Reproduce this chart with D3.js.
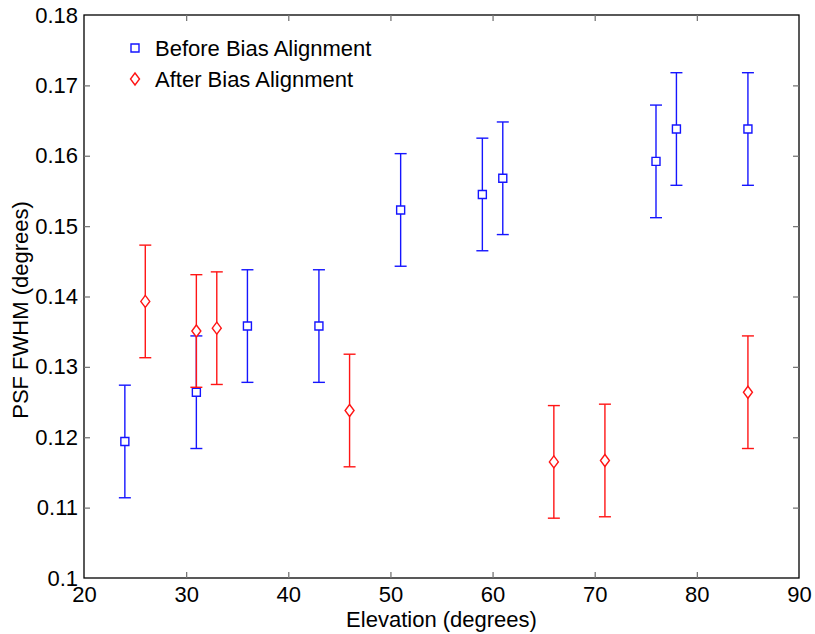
<!DOCTYPE html>
<html>
<head>
<meta charset="utf-8">
<script src="https://cdn.jsdelivr.net/npm/d3@7"></script>
<style>
  html, body { margin: 0; padding: 0; background: #fff; }
  svg text { font-family: "Liberation Sans", Arial, Helvetica, sans-serif; fill: #000; }
</style>
</head>
<body>
<svg id="chart" width="815" height="634"></svg>
<script>
// Elevation (degrees) and PSF FWHM (degrees) with ±error
const beforeElev = [24, 31, 36, 43, 51, 59, 61, 76, 78, 85];
const beforeFwhm = [0.1194, 0.1264, 0.1358, 0.1358, 0.1523, 0.1545, 0.1568, 0.1592, 0.1638, 0.1638];
const afterElev = [26, 31, 33, 46, 66, 71, 85];
const afterFwhm = [0.1393, 0.1351, 0.1355, 0.1238, 0.1165, 0.1167, 0.1264];
const errHalf = 0.008;

const xTicks = [20, 30, 40, 50, 60, 70, 80, 90];
const yTicks = [0.1, 0.11, 0.12, 0.13, 0.14, 0.15, 0.16, 0.17, 0.18];
const legendLabels = ["Before Bias Alignment", "After Bias Alignment"];

const svg = d3.select("#chart");
const plotL = 84, plotR = 799, plotT = 15, plotB = 578;
const fontPx = "22px";

const x = d3.scaleLinear().domain([20, 90]).range([plotL, plotR]);
const y = d3.scaleLinear().domain([0.1, 0.18]).range([plotB, plotT]);

const tickLen = 6;
const tickColor = "#777";

// Frame
svg.append("rect")
  .attr("x", plotL).attr("y", plotT)
  .attr("width", plotR - plotL).attr("height", plotB - plotT)
  .attr("fill", "none").attr("stroke", "#000").attr("stroke-width", 1.3);

// Axes with inward ticks
const xAxisB = d3.axisBottom(x).tickValues(xTicks).tickSize(-tickLen).tickPadding(8).tickFormat(d3.format("d"));
const xAxisT = d3.axisTop(x).tickValues(xTicks).tickSize(-tickLen).tickFormat("");
const yAxisL = d3.axisLeft(y).tickValues(yTicks).tickSize(-tickLen).tickPadding(6)
  .tickFormat(d => d === 0.1 ? "0.1" : d3.format(".2f")(d));
const yAxisR = d3.axisRight(y).tickValues(yTicks).tickSize(-tickLen).tickFormat("");

function styleAxis(g) {
  g.select(".domain").remove();
  g.selectAll(".tick line").attr("stroke", tickColor).attr("stroke-width", 1.3);
  g.selectAll(".tick text").style("font-size", fontPx).attr("fill", "#000")
   .style("font-family", "'Liberation Sans', Arial, sans-serif");
}

svg.append("g").attr("transform", `translate(0,${plotB})`).call(xAxisB).call(styleAxis);
svg.append("g").attr("transform", `translate(0,${plotT})`).call(xAxisT).call(styleAxis);
svg.append("g").attr("transform", `translate(${plotL},0)`).call(yAxisL).call(styleAxis);
svg.append("g").attr("transform", `translate(${plotR},0)`).call(yAxisR).call(styleAxis);

// Tick marks at the frame corners coincide with the frame itself
svg.selectAll(".tick").filter(d => d === 20 || d === 90 || d === 0.1 || d === 0.18)
  .select("line").attr("stroke", "none");

// Axis titles
svg.append("text")
  .attr("x", (plotL + plotR) / 2).attr("y", 627)
  .attr("text-anchor", "middle").style("font-size", fontPx)
  .text("Elevation (degrees)");
svg.append("text")
  .attr("transform", `translate(28,310) rotate(-90)`)
  .attr("text-anchor", "middle").style("font-size", fontPx)
  .text("PSF FWHM (degrees)");

const capW = 6;

function drawSeries(elev, fwhm, color, shape) {
  const data = elev.map((e, i) => ({ e, v: fwhm[i] }));
  const g = svg.append("g");
  const eb = g.selectAll("g.eb").data(data).join("g").attr("class", "eb")
    .attr("stroke", color).attr("stroke-width", 1.4).attr("fill", "none");
  eb.append("line")
    .attr("x1", d => x(d.e)).attr("x2", d => x(d.e))
    .attr("y1", d => y(d.v - errHalf)).attr("y2", d => y(d.v + errHalf));
  eb.append("line")
    .attr("x1", d => x(d.e) - capW).attr("x2", d => x(d.e) + capW)
    .attr("y1", d => y(d.v + errHalf)).attr("y2", d => y(d.v + errHalf));
  eb.append("line")
    .attr("x1", d => x(d.e) - capW).attr("x2", d => x(d.e) + capW)
    .attr("y1", d => y(d.v - errHalf)).attr("y2", d => y(d.v - errHalf));
  g.selectAll("path.m").data(data).join("path").attr("class", "m")
    .attr("d", shape)
    .attr("transform", d => `translate(${x(d.e)},${y(d.v)})`)
    .attr("fill", "#fff").attr("stroke", color).attr("stroke-width", 1.4);
}

const squarePath = "M-4,-4H4V4H-4Z";
const diamondPath = "M0,-6L4.5,0L0,6L-4.5,0Z";

drawSeries(beforeElev, beforeFwhm, "#1515ff", squarePath);
drawSeries(afterElev, afterFwhm, "#ff1515", diamondPath);

// Legend
const legend = svg.append("g");
const legendItems = [
  { label: legendLabels[0], color: "#1515ff", shape: squarePath, ly: 48 },
  { label: legendLabels[1], color: "#ff1515", shape: diamondPath, ly: 79 }
];
legendItems.forEach(it => {
  legend.append("path").attr("d", it.shape)
    .attr("transform", `translate(135,${it.ly})`)
    .attr("fill", "none").attr("stroke", it.color).attr("stroke-width", 1.4);
  legend.append("text").attr("x", 155).attr("y", it.ly + 8)
    .style("font-size", fontPx).text(it.label);
});
</script>
</body>
</html>
